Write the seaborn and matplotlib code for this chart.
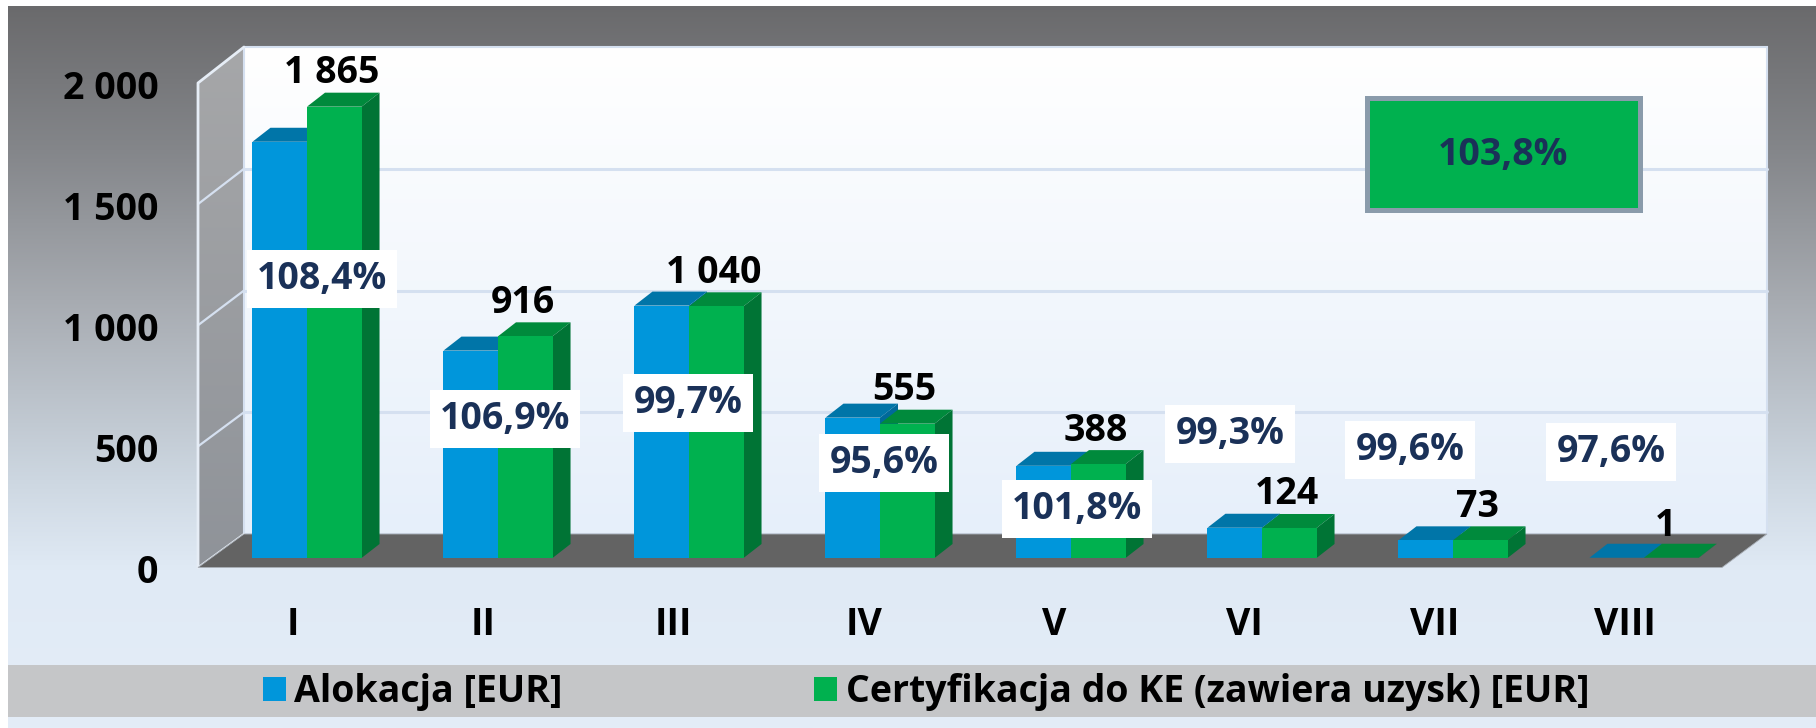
import numpy as np
import pandas as pd
import seaborn as sns
import matplotlib.pyplot as plt
from matplotlib.patches import Polygon, Rectangle

categories = ['I', 'II', 'III', 'IV', 'V', 'VI', 'VII', 'VIII']
alokacja = [1720, 857, 1043, 580, 381, 125, 73, 1]
certyfikacja = [1865, 916, 1040, 555, 388, 124, 73, 1]
cert_labels = ['1 865', '916', '1 040', '555', '388', '124', '73', '1']
pct_labels = ['108,4%', '106,9%', '99,7%', '95,6%', '101,8%', '99,3%', '99,6%', '97,6%']
total_pct = '103,8%'
y_ticks = [0, 500, 1000, 1500, 2000]
y_tick_labels = ['0', '500', '1 000', '1 500', '2 000']
name_a = 'Alokacja [EUR]'
name_c = 'Certyfikacja do KE (zawiera uzysk) [EUR]'

# where the percent boxes sit, in picture pixels
pct_xy = [(322, 276), (505, 416), (688, 400), (884, 460), (1077, 506), (1230, 431), (1410, 447), (1611, 449)]

W, H = 1816, 728
BLUE, GREEN = '#0096db', '#00b14f'
BLUE_TOP, GREEN_TOP = '#0075a8', '#008a3c'
BLUE_SIDE, GREEN_SIDE = '#00699a', '#007435'
NAVY = '#1a3158'
FS = 27

sns.set_theme(style='white')
plt.rcParams['font.family'] = ['Open Sans', 'DejaVu Sans']
plt.rcParams['font.weight'] = 'bold'


def box(x0, y0, x1, y1):
    # pixel box (y from the top) to figure fractions
    return [x0 / W, 1 - y1 / H, (x1 - x0) / W, (y1 - y0) / H]


def hex_rgb(c):
    return np.array([int(c[i:i + 2], 16) for i in (1, 3, 5)]) / 255


def gradient(ax, stops, extent, clip=None):
    ys = np.linspace(extent[2], extent[3], 400)
    rgb = np.stack([np.interp(ys, [s[0] for s in stops], chan) for chan in
                    np.array([hex_rgb(s[1]) for s in stops]).T], axis=1)
    im = ax.imshow(rgb[:, None, :], extent=[extent[0], extent[1], extent[3], extent[2]],
                   aspect='auto', zorder=clip[1] if clip else 0)
    if clip:
        im.set_clip_path(clip[0])


fig = plt.figure(figsize=(W / 100, H / 100), dpi=100, facecolor='white')

# background layer in pixel coordinates
bg = fig.add_axes([0, 0, 1, 1])
gradient(bg, [(6, '#6a6a6c'), (150, '#84868a'), (300, '#a7abb1'), (480, '#cdd7e1'), (570, '#e0eaf5'), (728, '#e4edf8')],
         (8, W, 6, H))

FL, FR, BL, BR = 198, 1722, 244, 1767
Y0F, Y0B = 567.5, 534
YTF, YTB = 83, 47

side = Polygon([(FL, YTF), (BL, YTB), (BL, Y0B), (FL, Y0F)], transform=bg.transData)
gradient(bg, [(YTB, '#a6a7a9'), (Y0F, '#8f9399')], (FL, BL, YTB, Y0F), clip=(side, 1))
back = Rectangle((BL, YTB), BR - BL, Y0B - YTB, transform=bg.transData)
gradient(bg, [(YTB, '#ffffff'), (Y0B, '#e6effa')], (BL, BR, YTB, Y0B), clip=(back, 1))
bg.add_patch(Rectangle((BL, YTB), BR - BL, Y0B - YTB, fc='none', ec='#d5e0f0', lw=1.5, zorder=2))

for frac in [0.25, 0.5, 0.75]:
    yb = Y0B + (YTB - Y0B) * frac
    yf = Y0F + (YTF - Y0F) * frac
    bg.plot([BL, BR], [yb, yb], color='#d5e0f0', lw=2.2, zorder=2)
    bg.plot([FL, BL], [yf, yb], color='#d5e0f0', lw=1.6, zorder=2)
bg.plot([FL, FL, BL], [Y0F, YTF, YTB], color='#e6edf6', lw=2, zorder=3)
bg.plot([FL, BL], [Y0F, Y0B], color='#e6edf6', lw=1.6, zorder=3)
bg.add_patch(Polygon([(FL, Y0F), (BL, Y0B), (BR, Y0B), (FR, Y0F)], fc='#636363', ec='#aab0b8', lw=0.6, zorder=4))

bg.add_patch(Rectangle((1366.5, 97.5), 273, 112, fc=GREEN, ec='#8a9bab', lw=3.6, zorder=5))
bg.add_patch(Rectangle((8, 665), W - 8, 52, fc='#c5c6c8', ec='none', zorder=5))
bg.set_xlim(0, W)
bg.set_ylim(H, 0)
bg.axis('off')

# front plane of the chart box, carries the tick labels
front = fig.add_axes(box(198, 84.5, 1720, 568.5))
front.patch.set_alpha(0)
front.set_xlim(-0.5, 7.5)
front.set_ylim(0, 2000)
front.set_xticks(range(len(categories)), categories)
front.set_yticks(y_ticks, y_tick_labels)
front.tick_params(axis='x', length=0, pad=27, labelsize=FS, labelcolor='black')
front.tick_params(axis='y', length=0, pad=28.5, labelsize=FS, labelcolor='black')
sns.despine(ax=front, left=True, bottom=True)

# bars, front faces through seaborn
df = pd.DataFrame({'cat': categories * 2,
                   'value': alokacja + certyfikacja,
                   'series': [name_a] * len(categories) + [name_c] * len(categories)})
ax = fig.add_axes(box(211.5, 74, 1739.5, 558))
ax.patch.set_alpha(0)
sns.barplot(data=df, x='cat', y='value', hue='series', hue_order=[name_a, name_c], order=categories,
            palette=[BLUE, GREEN], saturation=1, width=0.571, gap=0, ax=ax, linewidth=0)
ax.set_xlim(-0.5, 7.5)
ax.set_ylim(0, 2000)
ax.set(xlabel='', ylabel='', xticks=[], yticks=[])
sns.despine(ax=ax, left=True, bottom=True)

# top and side faces from the bar geometry
dx = 18 / 191
dy = 14 / (484 / 2000)
for k, (cont, top_c, side_c) in enumerate(zip(ax.containers, [BLUE_TOP, GREEN_TOP], [BLUE_SIDE, GREEN_SIDE])):
    for bar in cont:
        bar.set_zorder(3 + 2 * k)
        x0, x1, h = bar.get_x(), bar.get_x() + bar.get_width(), bar.get_height()
        ax.add_patch(Polygon([(x0, h), (x0 + dx, h + dy), (x1 + dx, h + dy), (x1, h)], fc=top_c, ec='none',
                             zorder=2 + 2 * k, clip_on=False))
        ax.add_patch(Polygon([(x1, 0), (x1 + dx, dy), (x1 + dx, h + dy), (x1, h)], fc=side_c, ec='none',
                             zorder=2 + 2 * k, clip_on=False))

anns = ax.bar_label(ax.containers[1], labels=cert_labels, padding=10.5, fontsize=FS, fontweight='bold', color='black',
                    zorder=10, clip_on=False)
for a in anns:
    a.xyann = (-2, a.xyann[1])
# the "1" sits lower in the original
anns[-1].xyann = (-4, 9)

sns.move_legend(ax, loc='center left', bbox_to_anchor=(263 / W, 1 - 692 / H), bbox_transform=fig.transFigure,
                ncol=2, frameon=False, title=None, fontsize=FS, handlelength=0.62, handleheight=0.62,
                handletextpad=0.22, columnspacing=6.7, borderpad=0, borderaxespad=0)
for t in ax.get_legend().get_texts():
    t.set_color('black')
    t.set_fontweight('bold')

for (px, py), txt in zip(pct_xy, pct_labels):
    fig.text(px / W, 1 - (py + 3) / H, txt, ha='center', va='center', fontsize=FS, fontweight='bold', color=NAVY,
             zorder=20, bbox=dict(boxstyle='square,pad=0.27', fc='white', ec='none'))
fig.text(1503 / W, 1 - 155 / H, total_pct, ha='center', va='center', fontsize=FS, fontweight='bold', color=NAVY,
         zorder=20)

fig.savefig('out.png', dpi=100)
